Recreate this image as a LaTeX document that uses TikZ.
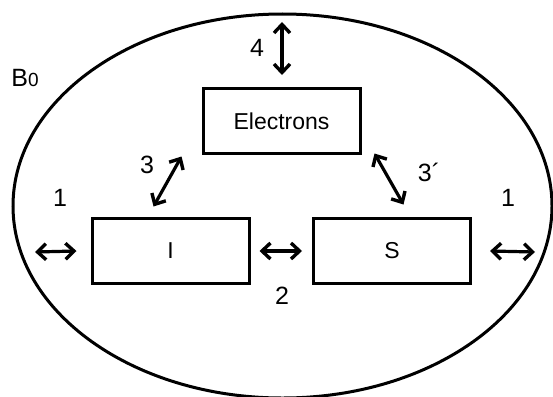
\documentclass[tikz,border=0pt]{standalone}
\usepackage{fontspec}
\setmainfont{Liberation Sans}
\usetikzlibrary{arrows.meta}
\begin{document}
\begin{tikzpicture}[x=1pt,y=-1pt,
  box/.style={draw, line width=3pt, minimum width=157pt, minimum height=65pt, inner sep=0pt, font=\fontsize{23}{26}\selectfont},
  lab/.style={inner sep=0pt, font=\fontsize{25}{28}\selectfont},
  dbl/.style={line width=3.2pt, {Straight Barb[length=8.5pt,width=16pt,line width=3.4pt]}-{Straight Barb[length=8.5pt,width=16pt,line width=3.4pt]}}
]
\useasboundingbox (0,0) rectangle (553,396);
\begin{scope}
\clip (0,0) rectangle (553,396);
\draw[line width=3pt] (282.5,206) ellipse [x radius=269.5, y radius=192];
\end{scope}
\node[box] (el) at (281.5,121) {Electrons};
\node[box] (i) at (170.5,251) {I};
\node[box] (s) at (392,251) {S};
\node[lab] (b0) at (25,78) {B\fontsize{19}{20}\selectfont 0};
\node[lab] (n4) at (257,48) {4};
\node[lab] (n3) at (147,165) {3};
\node[lab] (n3p) at (429,172) {3´};
\node[lab] (n1l) at (60,198) {1};
\node[lab] (n1r) at (508,198) {1};
\node[lab] (n2) at (282,296) {2};
\coordinate (t4) at (282,22);
\coordinate (b4) at (282,75);
\coordinate (l1) at (35,252);
\coordinate (r1) at (535,252);
\draw[dbl] (t4) -- (b4);
\draw[dbl] ([shift={(-20,1.5)}]el.south west) -- ([shift={(63,-10.5)}]i.north west);
\draw[dbl] ([shift={(13,-1.5)}]el.south east) -- ([shift={(91.5,-12.5)}]s.north west);
\draw[dbl] ([xshift=9pt]i.east) -- ([xshift=-10pt]s.west);
\draw[dbl] (l1) -- ([xshift=-14pt]i.west);
\draw[dbl] ([xshift=18pt]s.east) -- (r1);
\end{tikzpicture}
\end{document}
